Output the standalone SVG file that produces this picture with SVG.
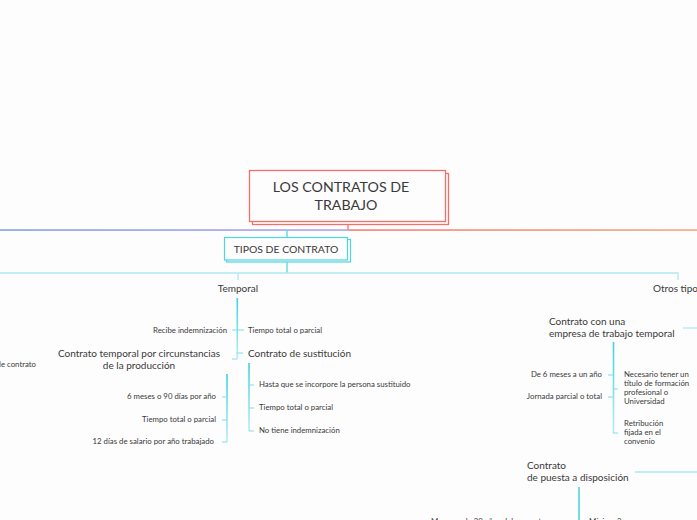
<svg xmlns="http://www.w3.org/2000/svg" width="697" height="520" viewBox="0 0 697 520">
<defs>
<linearGradient id="gV" x1="0" y1="0" x2="0" y2="1"><stop offset="0" stop-color="#3fd4dd"/><stop offset="1" stop-color="#b8edf1"/></linearGradient>
<linearGradient id="gL" x1="0" y1="0" x2="1" y2="0"><stop offset="0" stop-color="#7f98e6"/><stop offset="1" stop-color="#a9a0ea"/></linearGradient>
<linearGradient id="gR" x1="0" y1="0" x2="1" y2="0"><stop offset="0" stop-color="#f3786c"/><stop offset="1" stop-color="#f3a27a"/></linearGradient>
</defs>
<style>
text{font-family:Lato,"Noto Sans",sans-serif;fill:#3a3a3a}
.s{font-size:7.8px}
.m{font-size:10px}
.t{stroke:#7adfe6;stroke-width:1;fill:none}
.lc{stroke:#aee9ef;stroke-width:1.3;fill:none}
.cy{stroke:#52d8df;stroke-width:1.3;fill:none}
</style>
<rect width="697" height="520" fill="#fdfdfd"/>
<g id="connectors">
<rect x="0" y="229.3" width="349" height="1.5" fill="url(#gL)"/>
<rect x="349" y="229.3" width="348" height="1.5" fill="url(#gR)"/>
<line x1="348" y1="225" x2="348" y2="230" stroke="#f3786c" stroke-width="1.3"/>
<line x1="287" y1="230" x2="287" y2="237" class="cy"/>
<line x1="287" y1="262" x2="287" y2="273" class="cy"/>
<path d="M0 273H678V280" class="lc"/>
<line x1="238" y1="273" x2="238" y2="280" class="lc"/>
<rect x="236.5" y="298" width="1.6" height="61" fill="url(#gV)"/>
<path d="M232 330H244M237 353H243M232 359H237" class="t"/>
<rect x="226.2" y="374" width="1.6" height="68" fill="url(#gV)"/>
<path d="M222 397H227M222 420H227M222 442H227" class="t"/>
<rect x="248.2" y="363" width="1.6" height="68" fill="url(#gV)"/>
<path d="M249 385H254M249 408H254M249 431H254" class="t"/>
<line x1="683" y1="328" x2="697" y2="328" class="lc"/>
<rect x="612.7" y="342" width="1.6" height="91" fill="url(#gV)"/>
<path d="M608 375H613M608 397H613M613 389H618M613 433H618" class="t"/>
<line x1="635" y1="472" x2="697" y2="472" class="lc"/>
<rect x="578.2" y="487" width="1.6" height="33" fill="#4fd6de"/>
</g>
<g id="root">
<rect x="252.5" y="173.5" width="196" height="51" fill="#fdfdfd" stroke="#f3706a" stroke-width="1.3"/>
<rect x="249.5" y="170.5" width="196" height="51" fill="#fdfdfd" stroke="#f3706a" stroke-width="1.3"/>
<text x="341" y="192" text-anchor="middle" font-size="14.2">LOS CONTRATOS DE</text>
<text x="346" y="210" text-anchor="middle" font-size="14.2">TRABAJO</text>
</g>
<g id="tipos">
<rect x="226.5" y="239.5" width="124" height="22.5" fill="#fdfdfd" stroke="#4fd6de" stroke-width="1.2"/>
<rect x="224.5" y="237.5" width="123" height="22.5" fill="#fdfdfd" stroke="#4fd6de" stroke-width="1.2"/>
<text x="286" y="253" text-anchor="middle" font-size="10.4">TIPOS DE CONTRATO</text>
</g>
<g id="temporal"><text class="m" x="238" y="292" text-anchor="middle">Temporal</text></g>
<g id="recibe"><text class="s" x="227" y="333" text-anchor="end">Recibe indemnización</text></g>
<g id="tiempo1"><text class="s" x="248" y="333">Tiempo total o parcial</text></g>
<g id="circ"><text class="m" x="139" y="357" text-anchor="middle">Contrato temporal por circunstancias</text><text class="m" x="139" y="369" text-anchor="middle">de la producción</text></g>
<g id="sust"><text class="m" x="248" y="357">Contrato de sustitución</text></g>
<g id="decontrato"><text class="s" x="36" y="367" text-anchor="end">de contrato</text></g>
<g id="c1"><text class="s" x="216" y="399" text-anchor="end">6 meses o 90 días por año</text></g>
<g id="c2"><text class="s" x="216" y="422" text-anchor="end">Tiempo total o parcial</text></g>
<g id="c3"><text class="s" x="214" y="444" text-anchor="end">12 días de salario por año trabajado</text></g>
<g id="s1"><text class="s" x="259" y="387">Hasta que se incorpore la persona sustituido</text></g>
<g id="s2"><text class="s" x="259" y="410">Tiempo total o parcial</text></g>
<g id="s3"><text class="s" x="259" y="433">No tiene indemnización</text></g>
<g id="otros"><text class="m" x="653" y="292">Otros tipos</text></g>
<g id="ett"><text class="m" x="549" y="325">Contrato con una</text><text class="m" x="549" y="337">empresa de trabajo temporal</text></g>
<g id="e1"><text class="s" x="602" y="377" text-anchor="end">De 6 meses a un año</text></g>
<g id="e2"><text class="s" x="602" y="399" text-anchor="end">Jornada parcial o total</text></g>
<g id="e3"><text class="s" x="624" y="377">Necesario tener un</text><text class="s" x="624" y="386">título de formación</text><text class="s" x="624" y="395">profesional o</text><text class="s" x="624" y="404">Universidad</text></g>
<g id="e4"><text class="s" x="624" y="426">Retribución</text><text class="s" x="624" y="435">fijada en el</text><text class="s" x="624" y="444">convenio</text></g>
<g id="puesta"><text class="m" x="527" y="469">Contrato</text><text class="m" x="527" y="481">de puesta a disposición</text></g>
<g id="p1"><text class="s" x="431" y="524">Menores de 30 años deben contar</text></g>
<g id="p2"><text class="s" x="589" y="524">Mínimo 3 meses</text></g>
</svg>
